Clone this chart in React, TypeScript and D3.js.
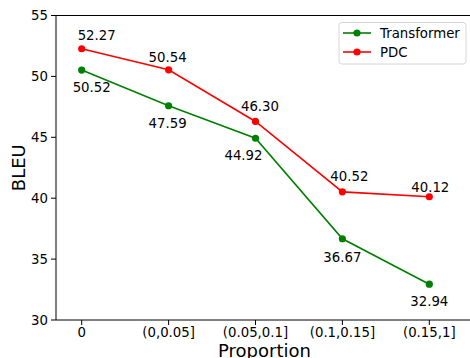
import React from "react";
import * as d3 from "d3";

const categories = ["0", "(0,0.05]", "(0.05,0.1]", "(0.1,0.15]", "(0.15,1]"];
const transformer = [50.52, 47.59, 44.92, 36.67, 32.94];
const pdc = [52.27, 50.54, 46.3, 40.52, 40.12];
const yTicks = [30, 35, 40, 45, 50, 55];

// label nudges in px (dx, dy to baseline)
const transformerNudge = [[10, 22], [-1, 22], [-12, 22], [0, 23], [0, 22]];
const pdcNudge = [[15, -9], [-1, -7.5], [4.5, -10], [7, -10.7], [1, -5]];

const series = [
  { name: "Transformer", color: "green", values: transformer, nudge: transformerNudge },
  { name: "PDC", color: "red", values: pdc, nudge: pdcNudge },
];

const W = 470, H = 358;
const left = 56, top = 15.5, bottom = 320, right = 474;
const font = "DejaVu Sans, sans-serif";
const fs = 13.3;

export default function App() {
  const x = d3.scaleLinear().domain([0, categories.length - 1]).range([81.7, 429.3]);
  const y = d3.scaleLinear().domain([30, 55]).range([bottom, top]);
  const line = d3.line<number>().x((_, i) => x(i)).y((d) => y(d));

  return (
    <svg width={W} height={H} style={{ position: "fixed", left: 0, top: 0, background: "#fff" }} fontFamily={font}>
      {/* spines */}
      <line x1={left} x2={left} y1={top} y2={bottom} stroke="#000" strokeWidth={1} />
      <line x1={left} x2={right} y1={bottom} y2={bottom} stroke="#000" strokeWidth={1} />
      <line x1={left} x2={right} y1={top} y2={top} stroke="#000" strokeWidth={1} />

      {/* y ticks */}
      {yTicks.map((t) => (
        <g key={t} transform={`translate(0,${y(t)})`}>
          <line x1={left - 5} x2={left} stroke="#000" />
          <text x={left - 8} dy="0.35em" textAnchor="end" fontSize={fs}>{t}</text>
        </g>
      ))}
      {/* x ticks */}
      {categories.map((c, i) => (
        <g key={c} transform={`translate(${x(i)},0)`}>
          <line y1={bottom} y2={bottom + 5} stroke="#000" />
          <text y={bottom + 17} textAnchor="middle" fontSize={fs}>{c}</text>
        </g>
      ))}

      <text transform={`translate(25,${(top + bottom) / 2}) rotate(-90)`} textAnchor="middle" fontSize={18}>BLEU</text>
      <text x={264.5} y={357} textAnchor="middle" fontSize={18}>Proportion</text>

      {series.map((s) => (
        <g key={s.name}>
          <path d={line(s.values) || ""} fill="none" stroke={s.color} strokeWidth={1.6} />
          {s.values.map((v, i) => (
            <circle key={i} cx={x(i)} cy={y(v)} r={3.6} fill={s.color} />
          ))}
          {s.values.map((v, i) => (
            <text key={"t" + i} x={x(i) + s.nudge[i][0]} y={y(v) + s.nudge[i][1]} textAnchor="middle" fontSize={fs}>
              {v.toFixed(2)}
            </text>
          ))}
        </g>
      ))}

      {/* legend */}
      <g>
        <rect x={339} y={22.5} width={127} height={41.5} rx={3} fill="#fff" stroke="#d6d6d6" />
        {series.map((s, i) => (
          <g key={s.name} transform={`translate(0,${33 + i * 19})`}>
            <line x1={343} x2={371} stroke={s.color} strokeWidth={1.6} />
            <circle cx={357} cy={0} r={3.6} fill={s.color} />
            <text x={380} dy="0.35em" fontSize={fs}>{s.name}</text>
          </g>
        ))}
      </g>
    </svg>
  );
}
